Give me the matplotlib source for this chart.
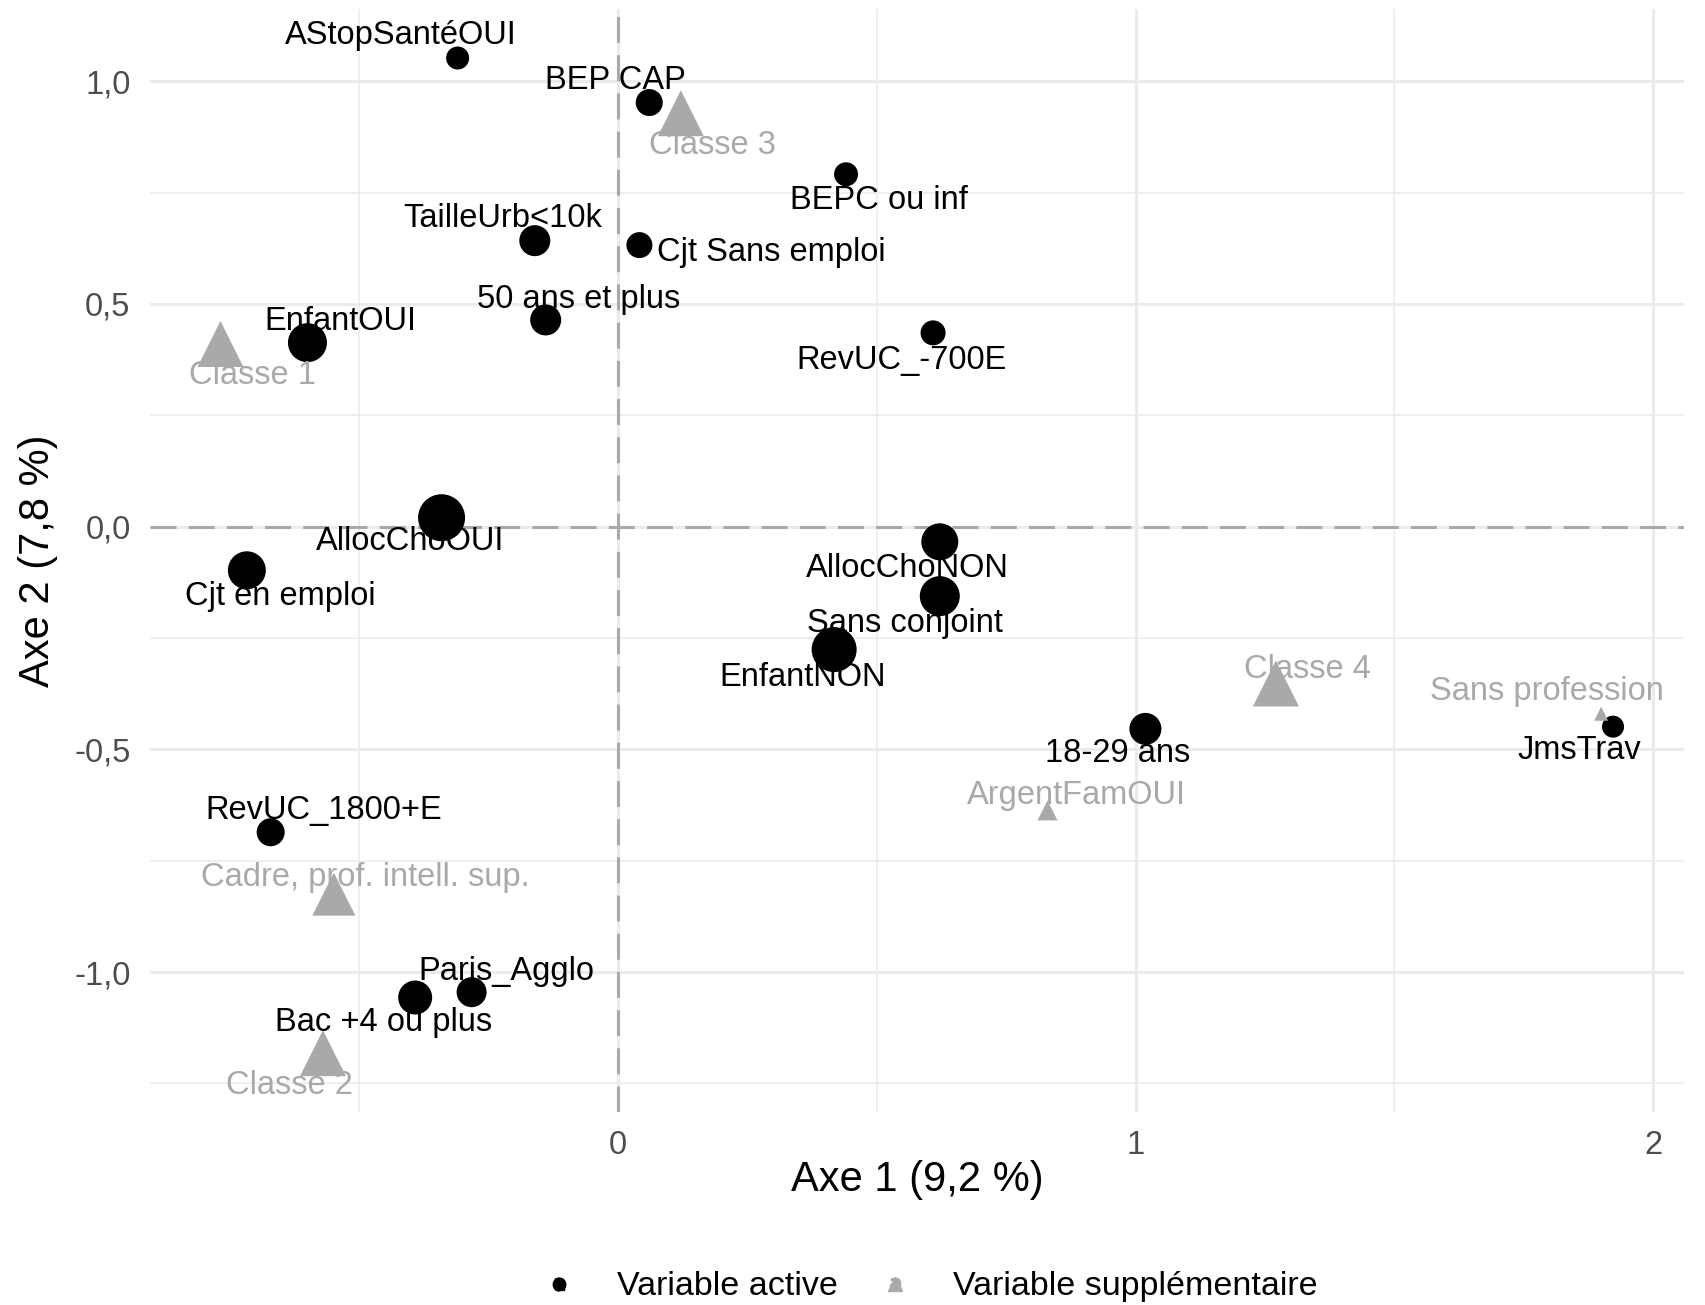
import matplotlib
matplotlib.use("Agg")
import matplotlib.pyplot as plt
from matplotlib.lines import Line2D
from matplotlib.legend_handler import HandlerTuple
from matplotlib.ticker import MultipleLocator, FuncFormatter

plt.rcParams['font.family'] = ['Liberation Sans', 'DejaVu Sans']

# Modalités actives
act_labels = ["AStopSantéOUI", "BEP CAP", "BEPC ou inf", "TailleUrb<10k", "Cjt Sans emploi",
              "50 ans et plus", "RevUC_-700E", "EnfantOUI", "AllocChoOUI", "Cjt en emploi",
              "AllocChoNON", "Sans conjoint", "EnfantNON", "18-29 ans", "JmsTrav",
              "RevUC_1800+E", "Paris_Agglo", "Bac +4 ou plus"]
act_x = [-0.309, 0.061, 0.441, -0.160, 0.042, -0.139, 0.609, -0.599, -0.340, -0.716,
         0.622, 0.622, 0.418, 1.019, 1.922, -0.670, -0.282, -0.391]
act_y = [1.052, 0.952, 0.791, 0.642, 0.632, 0.464, 0.435, 0.413, 0.020, -0.098,
         -0.034, -0.156, -0.276, -0.454, -0.449, -0.686, -1.045, -1.057]
act_poids = [23, 27, 24, 31, 26, 31, 25, 39, 47, 38, 37, 40, 45, 32, 22, 28, 30, 34]

# Modalités supplémentaires
sup_labels = ["Classe 3", "Classe 1", "Classe 4", "Sans profession", "ArgentFamOUI",
              "Cadre, prof. intell. sup.", "Classe 2"]
sup_x = [0.122, -0.767, 1.271, 1.899, 0.830, -0.548, -0.569]
sup_y = [0.928, 0.410, -0.352, -0.420, -0.637, -0.825, -1.182]
sup_poids = [46, 46, 46, 14, 20, 43, 46]

# décalage des étiquettes (points)
act_offsets = [(-41, 16), (-24, 16), (24, -19), (-23, 16), (95, -5), (24, 15), (-23, -20),
               (24, 15), (-23, -17), (24, -19), (-23, -19), (-25, -20), (-23, -20),
               (-20, -18), (-24, -17), (38, 16), (25, 15), (-23, -18)]
sup_offsets = [(23, -23), (23, -23), (23, 10), (-39, 16), (21, 11), (23, 12), (-24, -23)]

GRIS = "#A9A9A9"
TAILLE = 23.5

fig = plt.figure(figsize=(17.06, 13.05), dpi=100)
ax = fig.add_axes([150 / 1706, 193 / 1305, 1534 / 1706, 1103 / 1305])

ax.set_xlim(-0.903, 2.059)
ax.set_ylim(-1.314, 1.162)

for s in ax.spines.values():
    s.set_visible(False)
ax.xaxis.set_major_locator(MultipleLocator(1))
ax.xaxis.set_minor_locator(MultipleLocator(0.5))
ax.yaxis.set_major_locator(MultipleLocator(0.5))
ax.yaxis.set_minor_locator(MultipleLocator(0.25))
ax.grid(which="major", color="#EBEBEB", lw=2.2)
ax.grid(which="minor", color="#EBEBEB", lw=1.1)
ax.set_axisbelow(True)
ax.tick_params(which="both", length=0)
ax.tick_params(axis="x", labelsize=TAILLE, labelcolor="#4D4D4D", pad=13)
ax.tick_params(axis="y", labelsize=TAILLE, labelcolor="#4D4D4D", pad=14)
ax.yaxis.set_major_formatter(FuncFormatter(lambda v, p: f"{v:.1f}".replace(".", ",")))
ax.xaxis.set_major_formatter(FuncFormatter(lambda v, p: f"{v:g}"))

ax.axhline(0, color=GRIS, lw=2.2, dashes=(8.5, 4), zorder=1)
ax.axvline(0, color=GRIS, lw=2.2, dashes=(8.5, 4), zorder=1)

sz_act = [(0.72 * d) ** 2 for d in act_poids]
sz_sup = [(0.72 * d) ** 2 for d in sup_poids]
ax.scatter(act_x, act_y, s=sz_act, c="black", marker="o", lw=0, zorder=3)
ax.scatter(sup_x, sup_y, s=sz_sup, c=GRIS, marker="^", lw=0, zorder=3)

for lab, x, y, off in zip(act_labels, act_x, act_y, act_offsets):
    ax.annotate(lab, (x, y), xytext=off, textcoords="offset points",
                ha="center", va="center", fontsize=TAILLE, color="black", zorder=4)
for lab, x, y, off in zip(sup_labels, sup_x, sup_y, sup_offsets):
    ax.annotate(lab, (x, y), xytext=off, textcoords="offset points",
                ha="center", va="center", fontsize=TAILLE, color=GRIS, zorder=4)

ax.set_xlabel("Axe 1 (9,2 %)", fontsize=30, va="center")
ax.set_ylabel("Axe 2 (7,8 %)", fontsize=30, va="center")
ax.xaxis.set_label_coords(0.5, -0.0617)
ax.yaxis.set_label_coords(-0.073, 0.5)

h_act = (Line2D([], [], marker="o", color="black", ls="none", markersize=9),
         Line2D([], [], marker=r"$\mathsf{a}$", color="black", ls="none", markersize=9))
h_sup = (Line2D([], [], marker="^", color=GRIS, ls="none", markersize=10),
         Line2D([], [], marker=r"$\mathsf{a}$", color=GRIS, ls="none", markersize=9))
fig.legend([h_act, h_sup], ["Variable active", "Variable supplémentaire"],
           handler_map={tuple: HandlerTuple(ndivide=1, pad=0)},
           loc="center", bbox_to_anchor=(0.545, 0.0138), ncol=2, frameon=False,
           fontsize=24.5, handlelength=1.0, handletextpad=1.2, columnspacing=1.2)

fig.savefig("out.png", dpi=100)
